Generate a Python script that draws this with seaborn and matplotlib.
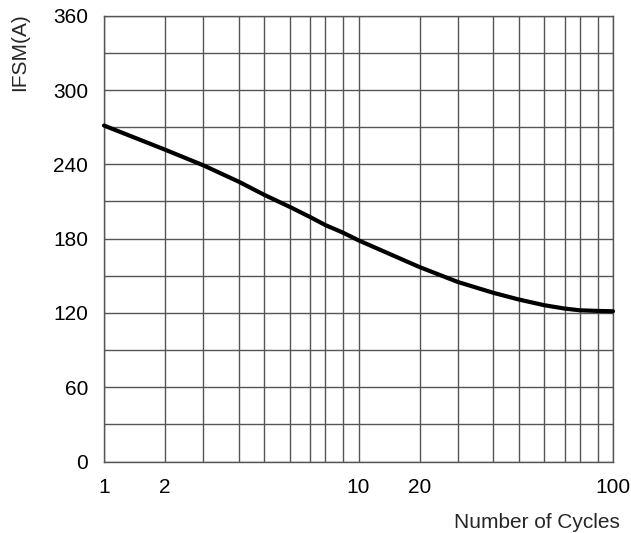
import numpy as np
import pandas as pd
import matplotlib
matplotlib.use("Agg")
import matplotlib.pyplot as plt
import seaborn as sns

# Data
cycles = [1, 2, 3, 4, 5, 6, 7, 8, 9, 10, 20, 30, 40, 50, 60, 70, 80, 90, 100]
ifsm = [271.3, 251.8, 239.2, 225.9, 215.3, 205.6, 197.4, 190.9, 184.7, 178.6,
        157.0, 145.0, 136.2, 130.8, 126.2, 123.5, 122.1, 121.6, 121.3]
x_grid = [1, 2, 3, 4, 5, 6, 7, 8, 9, 10, 20, 30, 40, 50, 60, 70, 80, 90, 100]
x_labeled = [1, 2, 10, 20, 100]
y_grid = list(range(0, 361, 30))
y_labeled = list(range(0, 361, 60))

# The reference's pseudo-log axis: position of digits 1..10 within a decade
digits = np.array([1, 2, 3, 4, 5, 6, 7, 8, 9, 10], float)
fracs = np.array([0, 0.24, 0.39, 0.53, 0.63, 0.73, 0.81, 0.87, 0.94, 1.0])


def fwd(x):
    x = np.clip(np.asarray(x, float), 1e-9, None)
    lx = np.log10(x)
    d = np.floor(lx + 1e-12)
    m = x / 10.0 ** d
    return d + np.interp(m, digits, fracs)


def inv(u):
    u = np.asarray(u, float)
    d = np.floor(u + 1e-12)
    f = u - d
    return np.interp(f, fracs, digits) * 10.0 ** d


df = pd.DataFrame({"cycles": cycles, "ifsm": ifsm})

sns.set_style("white")
plt.rcParams["font.family"] = ["Liberation Sans", "DejaVu Sans"]

fig = plt.figure(figsize=(6.31, 5.33), dpi=100)
ax = fig.add_axes([104 / 631, 1 - 461.5 / 533, (613 - 104) / 631, (461.5 - 15.7) / 533])
ax.set_xscale("function", functions=(fwd, inv))

sns.lineplot(data=df, x="cycles", y="ifsm", ax=ax, color="black", linewidth=3.0,
             clip_on=False, zorder=5)

ax.set_xlim(1, 100)
ax.set_ylim(0, 360)
ax.set_xticks(x_grid)
ax.set_xticklabels([str(v) if v in x_labeled else "" for v in x_grid])
ax.xaxis.set_minor_locator(matplotlib.ticker.NullLocator())
ax.set_yticks(y_grid)
ax.set_yticklabels([str(v) if v in y_labeled else "" for v in y_grid])
ax.tick_params(axis="both", length=0, labelsize=15, colors="black")
ax.tick_params(axis="x", pad=12)
ax.tick_params(axis="y", pad=11.5)
ax.grid(True, color="#555555", linewidth=1.0)
for s in ax.spines.values():
    s.set_color("#555555")
    s.set_linewidth(1.0)

ax.set_ylabel("IFSM(A)", fontsize=15, va="center")
ax.yaxis.set_label_coords(-0.165, 0.918)
ax.set_xlabel("Number of Cycles", fontsize=15, va="center")
ax.xaxis.set_label_coords(0.851, -0.136)

fig.savefig("out.png", dpi=100)
